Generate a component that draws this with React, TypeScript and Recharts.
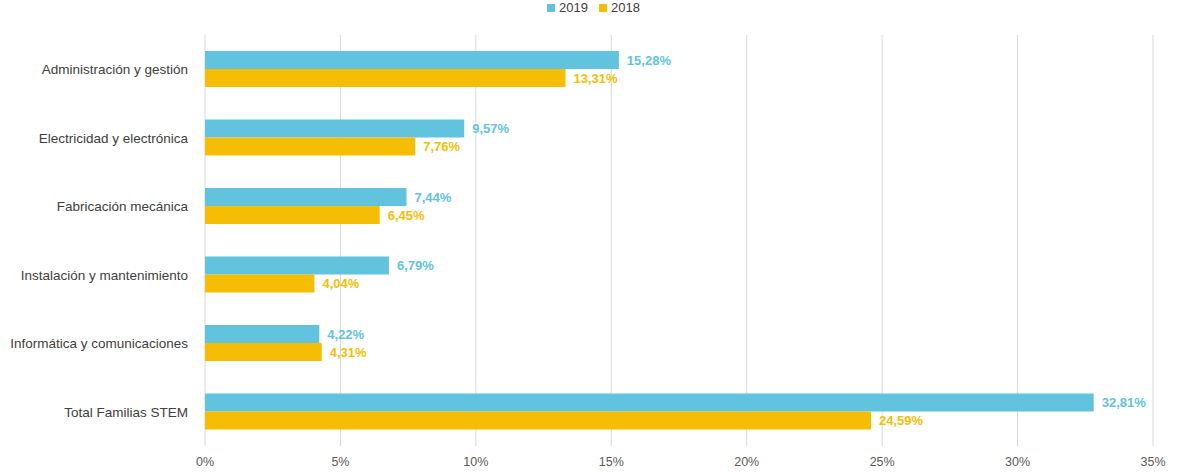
import { Bar, BarChart, CartesianGrid, LabelList, Legend, XAxis, YAxis } from 'recharts';

const categories = [
  'Administración y gestión',
  'Electricidad y electrónica',
  'Fabricación mecánica',
  'Instalación y mantenimiento',
  'Informática y comunicaciones',
  'Total Familias STEM',
];
const values2019 = [15.28, 9.57, 7.44, 6.79, 4.22, 32.81];
const values2018 = [13.31, 7.76, 6.45, 4.04, 4.31, 24.59];
const xTicks = [0, 5, 10, 15, 20, 25, 30, 35];

const data = categories.map((name, i) => ({ name, y2019: values2019[i], y2018: values2018[i] }));

const BLUE = '#62C3DE';
const GOLD = '#F5BE05';
const FONT = '"Liberation Sans", Arial, sans-serif';

const pct = (v: number) => `${v.toFixed(2).replace('.', ',')}%`;

const legendItems = [
  { label: '2019', color: BLUE },
  { label: '2018', color: GOLD },
];

function ChartLegend() {
  return (
    <div
      style={{
        display: 'flex',
        justifyContent: 'center',
        gap: 11,
        marginLeft: 34,
        paddingTop: 1,
        fontSize: 13,
        color: '#404040',
        fontFamily: FONT,
        lineHeight: '14px',
      }}
    >
      {legendItems.map((it) => (
        <span key={it.label} style={{ display: 'inline-flex', alignItems: 'center' }}>
          <span style={{ width: 8, height: 8, background: it.color, marginRight: 4, display: 'inline-block' }} />
          {it.label}
        </span>
      ))}
    </div>
  );
}

export default function App() {
  return (
    <div style={{ position: 'absolute', left: 0, top: 0, width: 1180, height: 472, background: '#fff', fontFamily: FONT }}>
      <BarChart
        width={1180}
        height={472}
        data={data}
        layout="vertical"
        barSize={18}
        barGap={0}
        margin={{ top: 15, right: 27, bottom: 0, left: 0 }}
      >
        <CartesianGrid horizontal={false} stroke="#D9D9D9" />
        <XAxis
          type="number"
          domain={[0, 35]}
          ticks={xTicks}
          tickFormatter={(v: number) => `${v}%`}
          axisLine={false}
          tickLine={false}
          tickSize={0}
          tickMargin={11}
          height={26}
          tick={{ fill: '#595959', fontSize: 12.5, fontFamily: FONT }}
        />
        <YAxis
          type="category"
          dataKey="name"
          width={205}
          axisLine={false}
          tickLine={false}
          tickSize={0}
          tickMargin={17}
          tick={{ fill: '#404040', fontSize: 13.5, fontFamily: FONT }}
        />
        <Legend verticalAlign="top" align="center" height={20} wrapperStyle={{ top: 0 }} content={() => <ChartLegend />} />
        <Bar dataKey="y2019" name="2019" fill={BLUE} isAnimationActive={false}>
          <LabelList
            dataKey="y2019"
            position="right"
            offset={8}
            formatter={(v: number) => pct(v)}
            style={{ fill: BLUE, fontWeight: 'bold', fontSize: 13, fontFamily: FONT }}
          />
        </Bar>
        <Bar dataKey="y2018" name="2018" fill={GOLD} isAnimationActive={false}>
          <LabelList
            dataKey="y2018"
            position="right"
            offset={8}
            formatter={(v: number) => pct(v)}
            style={{ fill: GOLD, fontWeight: 'bold', fontSize: 13, fontFamily: FONT }}
          />
        </Bar>
      </BarChart>
    </div>
  );
}
